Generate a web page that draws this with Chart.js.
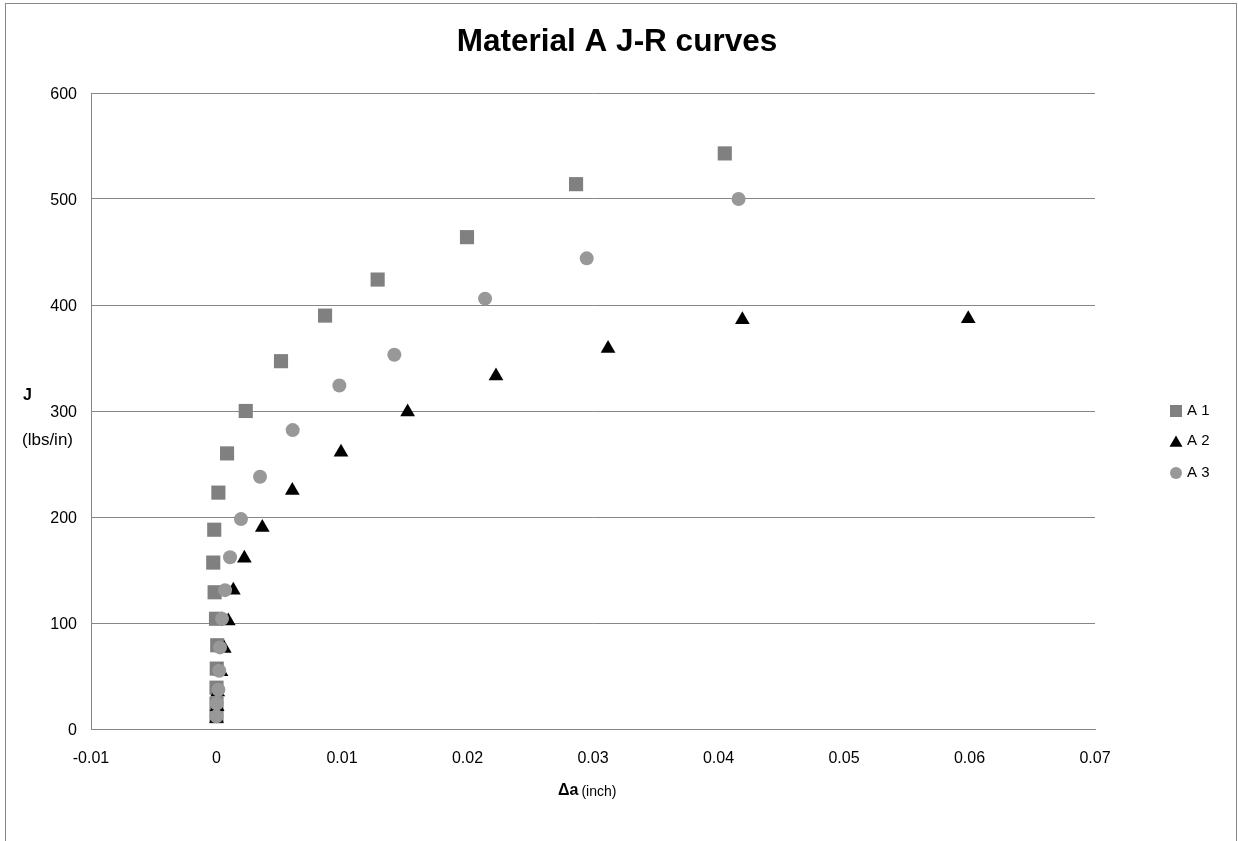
<!DOCTYPE html>
<html>
<head>
<meta charset="utf-8">
<title>Material A J-R curves</title>
<script src="https://cdn.jsdelivr.net/npm/chart.js@4.4.1/dist/chart.umd.min.js"></script>
<style>
  html, body { margin: 0; padding: 0; background: #fff; }
  canvas { display: block; }
</style>
</head>
<body>
<canvas id="jrChart" width="1238" height="841"></canvas>
<script>
// values (crack extension in inch, J in lbs/in)
const titleText = "Material A J-R curves";
const seriesNames = ["A 1", "A 2", "A 3"];

const a1Da = [0, 0, 0, 0.00002, 0.00006, -0.00004, -0.00015, -0.00026, -0.00018, 0.00015, 0.00084, 0.00233, 0.00514, 0.00865, 0.01284, 0.01996, 0.02865, 0.0405];
const a1J  = [12, 24, 39, 57, 79, 104, 129, 157, 188, 223, 260, 300, 347, 390, 424, 464, 514, 543];

const a2Da = [0, 0.00005, 0.0001, 0.00036, 0.00062, 0.00094, 0.00134, 0.00222, 0.00365, 0.00604, 0.00992, 0.01523, 0.02227, 0.0312, 0.0419, 0.0599];
const a2J  = [10, 21, 35, 54, 76, 102, 131, 161, 190, 225, 261, 299, 333, 359, 386, 387];

const a3Da = [0, 0.00002, 0.00015, 0.00022, 0.00028, 0.00044, 0.00068, 0.00108, 0.00195, 0.00347, 0.00607, 0.00979, 0.01417, 0.0214, 0.0295, 0.0416];
const a3J  = [12, 24, 37, 55, 77, 104, 131, 162, 198, 238, 282, 324, 353, 406, 444, 500];

const xMin = -0.01, xMax = 0.07, xStep = 0.01;
const yMin = 0, yMax = 600, yStep = 100;

const FONT = "'Liberation Sans', Arial, sans-serif";

function pairs(xs, ys) {
    return xs.map((x, i) => ({ x: x, y: ys[i] }));
}

// frame, title, axis titles and legend
const decor = {
    id: "decor",
    afterDraw(chart) {
        const ctx = chart.ctx;
        ctx.save();

        ctx.strokeStyle = "#878787";
        ctx.lineWidth = 1;
        ctx.strokeRect(5.5, 3.5, 1231, 900);

        ctx.fillStyle = "#000";
        ctx.textBaseline = "middle";

        ctx.textAlign = "center";
        ctx.font = "bold 31.5px " + FONT;
        ctx.fillText(titleText, 617, 42);

        ctx.textAlign = "left";
        ctx.font = "bold 16px " + FONT;
        ctx.fillText("J", 23, 396);
        ctx.font = "17px " + FONT;
        ctx.fillText("(lbs/in)", 22, 440);

        ctx.font = "bold 16px " + FONT;
        ctx.fillText("Δa", 558, 791);
        const w = ctx.measureText("Δa").width;
        ctx.font = "14px " + FONT;
        ctx.fillText("(inch)", 558 + w + 3, 792);

        // legend
        const rows = [411, 441, 473];
        const sizes = { rect: 8.5, triangle: 7.5, circle: 6 };
        chart.data.datasets.forEach((ds, i) => {
            ctx.fillStyle = ds.backgroundColor;
            Chart.helpers.drawPoint(ctx, {
                pointStyle: ds.pointStyle,
                radius: sizes[ds.pointStyle],
                rotation: 0,
                borderWidth: 0
            }, 1176, ds.pointStyle === "triangle" ? rows[i] + 2 : rows[i]);
            ctx.fillStyle = "#000";
            ctx.font = "15px " + FONT;
            ctx.fillText(ds.label, 1187, rows[i]);
        });

        ctx.restore();
    }
};

new Chart(document.getElementById("jrChart"), {
    type: "scatter",
    data: {
        datasets: [{
            label: seriesNames[0],
            data: pairs(a1Da, a1J),
            pointStyle: "rect",
            pointRadius: 10,
            backgroundColor: "#808080",
            borderWidth: 0,
            order: 3
        }, {
            label: seriesNames[1],
            data: pairs(a2Da, a2J),
            pointStyle: "triangle",
            pointRadius: 8.5,
            backgroundColor: "#000000",
            borderWidth: 0,
            order: 2
        }, {
            label: seriesNames[2],
            data: pairs(a3Da, a3J),
            pointStyle: "circle",
            pointRadius: 7,
            backgroundColor: "#989898",
            borderWidth: 0,
            order: 1
        }]
    },
    options: {
        responsive: false,
        animation: false,
        events: [],
        layout: {
            padding: { left: 41, top: 93, right: 143, bottom: 72 }
        },
        plugins: {
            legend: { display: false },
            title: { display: false },
            tooltip: { enabled: false }
        },
        scales: {
            x: {
                type: "linear",
                min: xMin,
                max: xMax,
                afterFit(scale) { scale.height = 40; },
                ticks: {
                    stepSize: xStep,
                    color: "#000",
                    padding: 20,
                    font: { family: FONT, size: 16 },
                    callback: v => Number(v.toFixed(2)).toString()
                },
                grid: { display: false, drawTicks: false },
                border: { display: true, color: "#868686", width: 1 }
            },
            y: {
                type: "linear",
                min: yMin,
                max: yMax,
                afterFit(scale) { scale.width = 50; },
                ticks: {
                    stepSize: yStep,
                    color: "#000",
                    padding: 14,
                    labelOffset: 2,
                    font: { family: FONT, size: 16 }
                },
                grid: { color: "#868686", lineWidth: 1, drawTicks: false },
                border: { display: true, color: "#868686", width: 1 }
            }
        }
    },
    plugins: [decor]
});
</script>
</body>
</html>
